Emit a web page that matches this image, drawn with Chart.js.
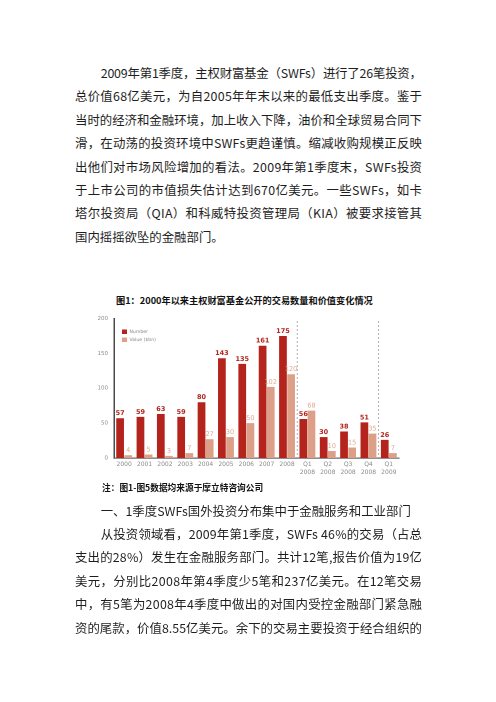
<!DOCTYPE html>
<html><head><meta charset="utf-8">
<script src="https://cdn.jsdelivr.net/npm/chart.js@4.4.0/dist/chart.umd.min.js"></script>
<style>
html,body{margin:0;padding:0;background:#fff;width:496px;height:702px;overflow:hidden;}
body{position:relative;font-family:"Noto Sans CJK SC","Noto Sans",sans-serif;color:#1e1e1e;}
.para{position:absolute;left:75px;width:347px;font-size:12.4px;line-height:23.4px;}
.ln{white-space:nowrap;height:23.4px;}
.ln span{display:inline-block;}
.ln.ind{padding-left:25.7px;}
.head{position:absolute;left:100.7px;font-size:12.4px;line-height:23.4px;white-space:nowrap;}
.cap{position:absolute;font-weight:700;white-space:nowrap;color:#111;}
#wrap{position:absolute;left:88px;top:306px;width:317px;height:176px;}
</style></head>
<body>
<div class="para" style="top:62.1px">
<div class="ln ind fit"><span>2009年第1季度，主权财富基金（SWFs）进行了26笔投资，</span></div>
<div class="ln fit"><span>总价值68亿美元，为自2005年年末以来的最低支出季度。鉴于</span></div>
<div class="ln fit"><span>当时的经济和金融环境，加上收入下降，油价和全球贸易合同下</span></div>
<div class="ln fit"><span>滑，在动荡的投资环境中SWFs更趋谨慎。缩减收购规模正反映</span></div>
<div class="ln fit"><span>出他们对市场风险增加的看法。2009年第1季度末，SWFs投资</span></div>
<div class="ln fit"><span>于上市公司的市值损失估计达到670亿美元。一些SWFs，如卡</span></div>
<div class="ln fit"><span>塔尔投资局（QIA）和科威特投资管理局（KIA）被要求接管其</span></div>
<div class="ln"><span>国内摇摇欲坠的金融部门。</span></div>
</div>

<div class="cap" style="left:116px;top:293.5px;font-size:9.2px;line-height:13px;">图1：2000年以来主权财富基金公开的交易数量和价值变化情况</div>

<div id="wrap"><canvas id="c"></canvas></div>

<div class="cap" style="left:102px;top:480.5px;font-size:8.7px;line-height:13px;">注：图1-图5数据均来源于摩立特咨询公司</div>

<div class="head" style="top:500.3px">一、1季度SWFs国外投资分布集中于金融服务和工业部门</div>

<div class="para" style="top:523.1px">
<div class="ln ind fit"><span>从投资领域看，2009年第1季度，SWFs 46%的交易（占总</span></div>
<div class="ln fit"><span>支出的28%）发生在金融服务部门。共计12笔,报告价值为19亿</span></div>
<div class="ln fit"><span>美元，分别比2008年第4季度少5笔和237亿美元。在12笔交易</span></div>
<div class="ln fit"><span>中，有5笔为2008年4季度中做出的对国内受控金融部门紧急融</span></div>
<div class="ln fit"><span>资的尾款，价值8.55亿美元。余下的交易主要投资于经合组织的</span></div>
</div>

<script>
// justify each full line by spreading letter spacing to fill the column
document.querySelectorAll('.ln.fit').forEach(ln=>{
  const sp = ln.querySelector('span');
  const target = ln.clientWidth - (ln.classList.contains('ind') ? 25.7 : 0);
  const n = Array.from(sp.textContent).length;
  const w = sp.getBoundingClientRect().width;
  sp.style.letterSpacing = ((target - w) / (n - 1)) + 'px';
  // last char's trailing spacing compensated with negative margin
  sp.style.marginRight = (-(target - w) / (n - 1)) + 'px';
});
</script>

<script>
const categories = ['2000','2001','2002','2003','2004','2005','2006','2007','2008','Q1 2008','Q2 2008','Q3 2008','Q4 2008','Q1 2009'];
const numberDeals = [57,59,63,59,80,143,135,161,175,56,30,38,51,26];
const valueBn = [4,5,3,7,27,30,50,102,120,68,10,15,35,7];
const yTicks = [0,50,100,150,200];
const seriesNames = ['Number','Value ($bn)'];
const separatorsAfter = [8,12];

const RED = '#b5231d';
const SALMON = '#dca089';

const labelPlugin = {
  id:'labels',
  afterDatasetsDraw(chart){
    const ctx = chart.ctx;
    ctx.save();
    ctx.textAlign='center';
    ctx.textBaseline='bottom';
    chart.data.datasets.forEach((ds,di)=>{
      const meta = chart.getDatasetMeta(di);
      ctx.font = (di===0?'bold ':'')+'6.5px "DejaVu Sans"';
      ctx.fillStyle = di===0 ? '#b0261f' : '#e0a78e';
      meta.data.forEach((el,i)=>{
        ctx.fillText(String(ds.data[i]), el.x, el.y-1.5);
      });
    });
    ctx.restore();
  }
};

const decorPlugin = {
  id:'decor',
  beforeDatasetsDraw(chart){
    const ctx = chart.ctx, a = chart.chartArea, xs = chart.scales.x;
    ctx.save();
    ctx.strokeStyle='#9a9a9a';
    ctx.lineWidth=0.8;
    ctx.setLineDash([2,2]);
    separatorsAfter.forEach(i=>{
      const x = (xs.getPixelForValue(i)+xs.getPixelForValue(i+1))/2;
      ctx.beginPath();
      ctx.moveTo(x, a.top+2.5);
      ctx.lineTo(x, a.bottom);
      ctx.stroke();
    });
    ctx.restore();
  },
  afterDraw(chart){
    const ctx = chart.ctx, a = chart.chartArea;
    ctx.save();
    const cols=[RED,SALMON];
    ctx.font='4.6px "DejaVu Sans"';
    ctx.textBaseline='middle';
    ctx.textAlign='left';
    seriesNames.forEach((n,i)=>{
      const y = a.top+11+i*8;
      ctx.fillStyle=cols[i];
      ctx.fillRect(a.left+8, y, 5, 4.5);
      ctx.fillStyle='#888';
      ctx.fillText(n, a.left+15.5, y+2.4);
    });
    ctx.restore();
  }
};

new Chart(document.getElementById('c'), {
  type:'bar',
  data:{
    labels: categories.map(c=>c.split(' ')),
    datasets:[
      {label:seriesNames[0], data:numberDeals, backgroundColor:RED, categoryPercentage:0.8, barPercentage:0.95},
      {label:seriesNames[1], data:valueBn, backgroundColor:SALMON, categoryPercentage:0.8, barPercentage:0.95}
    ]
  },
  options:{
    responsive:true, maintainAspectRatio:false, animation:false,
    devicePixelRatio: 2,
    layout:{padding:{left:0,right:6,top:12.5,bottom:0}},
    plugins:{legend:{display:false}, tooltip:{enabled:false}},
    scales:{
      x:{
        grid:{display:false, drawTicks:false},
        border:{display:true,color:'#6a6a6a',width:1.2},
        ticks:{color:'#8a8a8a', font:{family:'DejaVu Sans', size:6, lineHeight:1.3}, padding:2.5, maxRotation:0, autoSkip:false},
        afterFit(s){ s.height = 24; }
      },
      y:{
        min:0, max:200,
        afterBuildTicks(s){ s.ticks = yTicks.map(v=>({value:v})); },
        grid:{display:false, drawTicks:false},
        border:{display:true,color:'#4a4a4a',width:1.5},
        ticks:{color:'#8a8a8a', font:{family:'DejaVu Sans', size:5.5}, padding:6},
        afterFit(s){ s.width = 26; }
      }
    }
  },
  plugins:[labelPlugin, decorPlugin]
});
</script>
</body></html>
